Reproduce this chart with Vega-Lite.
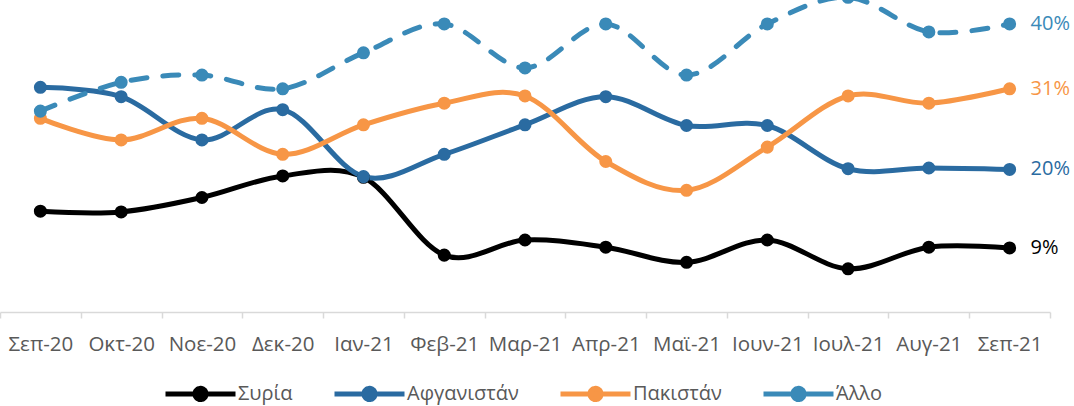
{
  "$schema": "https://vega.github.io/schema/vega-lite/v6.json",
  "width": 1050,
  "height": 312,
  "autosize": {"type": "none"},
  "padding": {"left": 0, "top": 0, "right": 24, "bottom": 94},
  "background": "white",
  "config": {
    "view": {"stroke": null},
    "font": "Open Sans"
  },
  "data": {
    "values": [
      {"month": "Σεπ-20", "series": "Συρία", "value": 0.140},
      {"month": "Οκτ-20", "series": "Συρία", "value": 0.139},
      {"month": "Νοε-20", "series": "Συρία", "value": 0.159},
      {"month": "Δεκ-20", "series": "Συρία", "value": 0.189},
      {"month": "Ιαν-21", "series": "Συρία", "value": 0.187},
      {"month": "Φεβ-21", "series": "Συρία", "value": 0.079},
      {"month": "Μαρ-21", "series": "Συρία", "value": 0.100},
      {"month": "Απρ-21", "series": "Συρία", "value": 0.090},
      {"month": "Μαϊ-21", "series": "Συρία", "value": 0.069},
      {"month": "Ιουν-21", "series": "Συρία", "value": 0.100},
      {"month": "Ιουλ-21", "series": "Συρία", "value": 0.060},
      {"month": "Αυγ-21", "series": "Συρία", "value": 0.090},
      {"month": "Σεπ-21", "series": "Συρία", "value": 0.089},
      {"month": "Σεπ-20", "series": "Αφγανιστάν", "value": 0.312},
      {"month": "Οκτ-20", "series": "Αφγανιστάν", "value": 0.299},
      {"month": "Νοε-20", "series": "Αφγανιστάν", "value": 0.239},
      {"month": "Δεκ-20", "series": "Αφγανιστάν", "value": 0.281},
      {"month": "Ιαν-21", "series": "Αφγανιστάν", "value": 0.188},
      {"month": "Φεβ-21", "series": "Αφγανιστάν", "value": 0.219},
      {"month": "Μαρ-21", "series": "Αφγανιστάν", "value": 0.260},
      {"month": "Απρ-21", "series": "Αφγανιστάν", "value": 0.299},
      {"month": "Μαϊ-21", "series": "Αφγανιστάν", "value": 0.259},
      {"month": "Ιουν-21", "series": "Αφγανιστάν", "value": 0.259},
      {"month": "Ιουλ-21", "series": "Αφγανιστάν", "value": 0.199},
      {"month": "Αυγ-21", "series": "Αφγανιστάν", "value": 0.200},
      {"month": "Σεπ-21", "series": "Αφγανιστάν", "value": 0.198},
      {"month": "Σεπ-20", "series": "Πακιστάν", "value": 0.269},
      {"month": "Οκτ-20", "series": "Πακιστάν", "value": 0.239},
      {"month": "Νοε-20", "series": "Πακιστάν", "value": 0.269},
      {"month": "Δεκ-20", "series": "Πακιστάν", "value": 0.219},
      {"month": "Ιαν-21", "series": "Πακιστάν", "value": 0.260},
      {"month": "Φεβ-21", "series": "Πακιστάν", "value": 0.290},
      {"month": "Μαρ-21", "series": "Πακιστάν", "value": 0.300},
      {"month": "Απρ-21", "series": "Πακιστάν", "value": 0.209},
      {"month": "Μαϊ-21", "series": "Πακιστάν", "value": 0.169},
      {"month": "Ιουν-21", "series": "Πακιστάν", "value": 0.229},
      {"month": "Ιουλ-21", "series": "Πακιστάν", "value": 0.300},
      {"month": "Αυγ-21", "series": "Πακιστάν", "value": 0.290},
      {"month": "Σεπ-21", "series": "Πακιστάν", "value": 0.310},
      {"month": "Σεπ-20", "series": "Άλλο", "value": 0.279},
      {"month": "Οκτ-20", "series": "Άλλο", "value": 0.319},
      {"month": "Νοε-20", "series": "Άλλο", "value": 0.329},
      {"month": "Δεκ-20", "series": "Άλλο", "value": 0.310},
      {"month": "Ιαν-21", "series": "Άλλο", "value": 0.360},
      {"month": "Φεβ-21", "series": "Άλλο", "value": 0.400},
      {"month": "Μαρ-21", "series": "Άλλο", "value": 0.339},
      {"month": "Απρ-21", "series": "Άλλο", "value": 0.400},
      {"month": "Μαϊ-21", "series": "Άλλο", "value": 0.329},
      {"month": "Ιουν-21", "series": "Άλλο", "value": 0.400},
      {"month": "Ιουλ-21", "series": "Άλλο", "value": 0.437},
      {"month": "Αυγ-21", "series": "Άλλο", "value": 0.389},
      {"month": "Σεπ-21", "series": "Άλλο", "value": 0.400}
    ]
  },
  "encoding": {
    "x": {
      "field": "month",
      "type": "nominal",
      "sort": ["Σεπ-20", "Οκτ-20", "Νοε-20", "Δεκ-20", "Ιαν-21", "Φεβ-21", "Μαρ-21", "Απρ-21", "Μαϊ-21", "Ιουν-21", "Ιουλ-21", "Αυγ-21", "Σεπ-21"],
      "scale": {"type": "band", "paddingInner": 0, "paddingOuter": 0},
      "axis": {
        "title": null,
        "labelAngle": 0,
        "tickBand": "extent",
        "domainColor": "#d9d9d9",
        "domainWidth": 1.5,
        "tickColor": "#d9d9d9",
        "tickWidth": 1.5,
        "tickSize": 6,
        "labelPadding": 16,
        "labelFont": "Open Sans",
        "labelFontSize": 20.5,
        "labelColor": "#595959",
        "grid": false
      }
    },
    "y": {
      "field": "value",
      "type": "quantitative",
      "scale": {"domain": [0, 0.4333], "nice": false, "zero": true},
      "axis": null
    },
    "color": {
      "field": "series",
      "type": "nominal",
      "scale": {
        "domain": ["Συρία", "Αφγανιστάν", "Πακιστάν", "Άλλο"],
        "range": ["#000000", "#2a6ba1", "#f79646", "#3a8ab8"]
      },
      "legend": {
        "title": null,
        "orient": "none",
        "legendX": 163,
        "legendY": 356,
        "direction": "horizontal",
        "padding": 0,
        "symbolType": "M-1,0H1M-0.16,0a0.16,0.16 0 1,0 0.32,0a0.16,0.16 0 1,0 -0.32,0",
        "symbolSize": 4900,
        "symbolStrokeWidth": 5,
        "symbolDash": [1, 0],
        "labelFont": "Open Sans",
        "labelFontSize": 20,
        "labelColor": "#595959",
        "labelOffset": 0,
        "columnPadding": 31
      }
    }
  },
  "layer": [
    {
      "transform": [{"filter": "datum.series !== 'Άλλο'"}],
      "mark": {"type": "line", "interpolate": "cardinal", "strokeWidth": 5, "strokeCap": "round", "clip": false}
    },
    {
      "transform": [{"filter": "datum.series === 'Άλλο'"}],
      "mark": {"type": "line", "interpolate": "cardinal", "strokeWidth": 5, "strokeCap": "round", "strokeDash": [16, 16], "clip": false}
    },
    {
      "mark": {"type": "point", "filled": true, "opacity": 1, "size": 170, "clip": false}
    },
    {
      "transform": [{"filter": "datum.month === 'Σεπ-21'"}],
      "mark": {"type": "text", "align": "left", "baseline": "middle", "dx": 21, "fontSize": 20, "font": "Open Sans"},
      "encoding": {
        "text": {"field": "value", "type": "quantitative", "format": ".0%"}
      }
    }
  ]
}
